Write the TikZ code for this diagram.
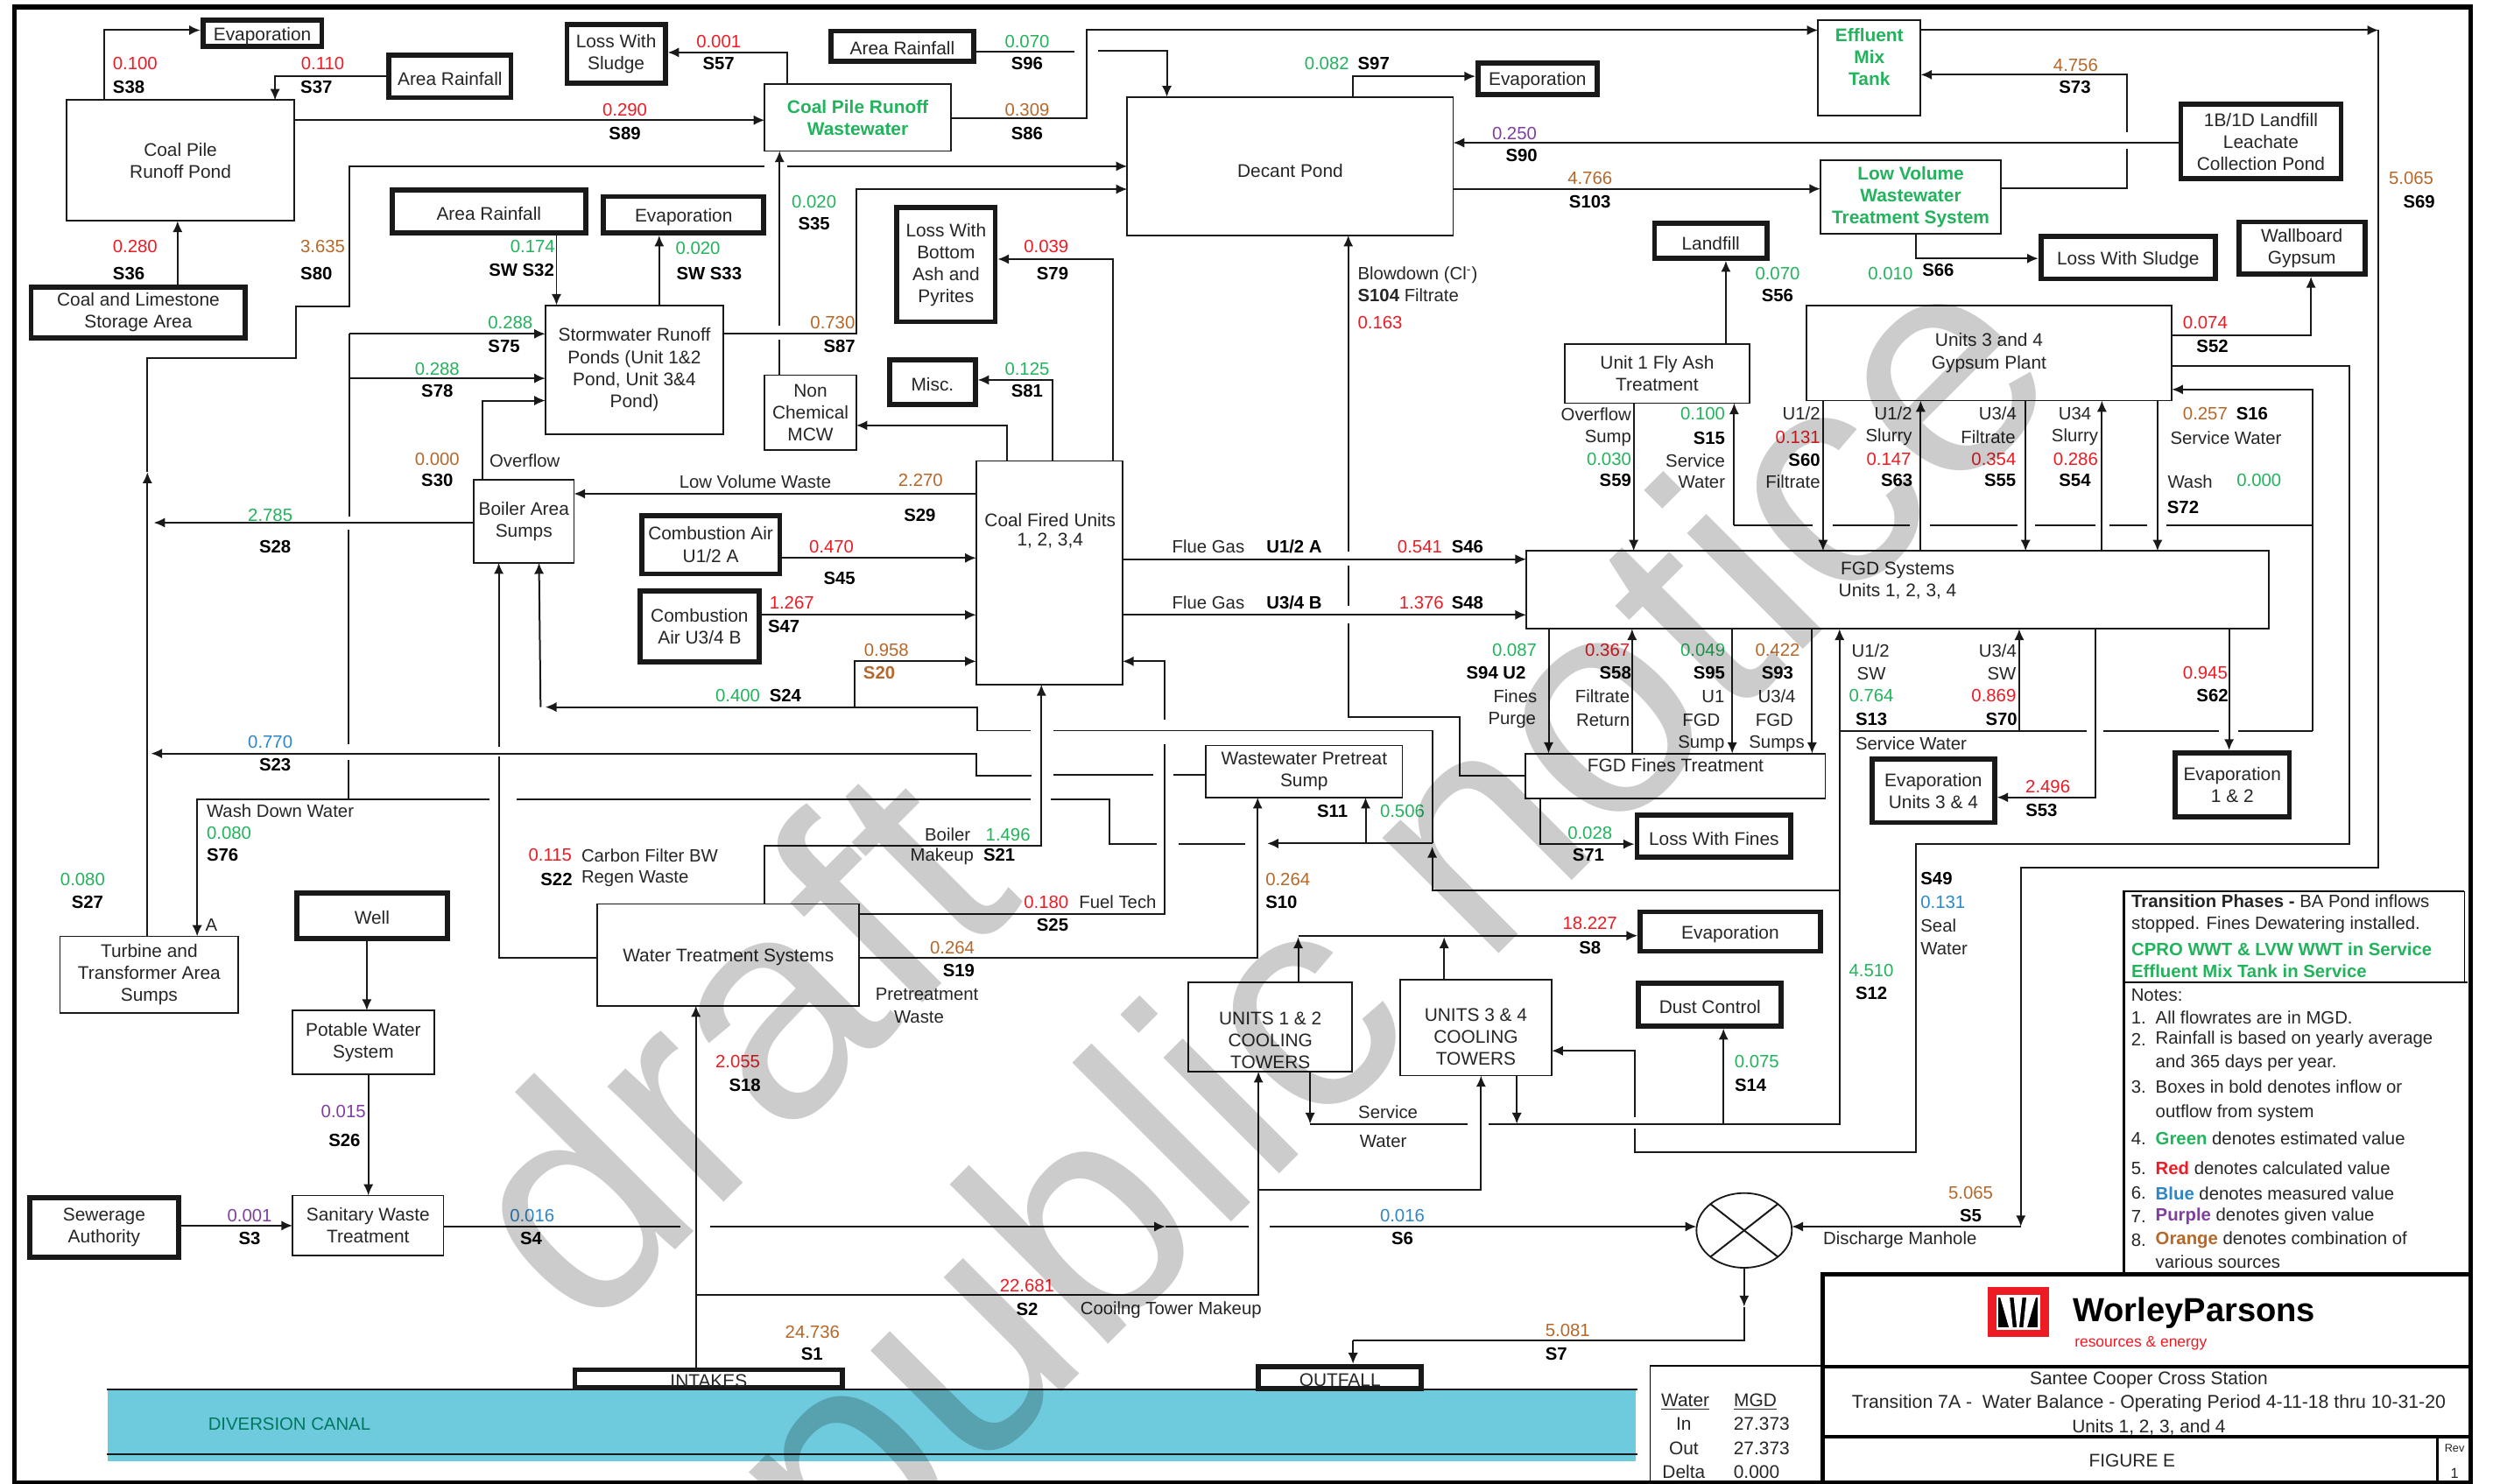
\documentclass[tikz,border=0pt]{standalone}
\usepackage{fontspec}
\setmainfont{Liberation Sans}
\usetikzlibrary{arrows.meta,shapes.geometric}
\definecolor{cred}{HTML}{ED1C24}
\definecolor{cgreen}{HTML}{22B35C}
\definecolor{corange}{HTML}{B5682A}
\definecolor{cblue}{HTML}{2F86C6}
\definecolor{cpurple}{HTML}{7F3FA0}
\definecolor{ctext}{HTML}{262626}
\definecolor{ccanal}{HTML}{6ECBDD}
\definecolor{cteal}{HTML}{00775F}
\newcounter{lbl}
\newcommand{\bxf}{\fontsize{11.5}{13.8}\selectfont}
\newcommand{\lbf}{\fontsize{11.2}{13.6}\selectfont}
\tikzset{
  ln/.style={line width=1.1pt,draw=black!90},
  ar/.style={ln,-{Latex[length=7pt,width=6.2pt]}},
  box/.style={draw=black!90,line width=1pt,inner sep=0pt,outer sep=0pt,align=center,font=\bxf,text=ctext,execute at begin node={\rule{0pt}{11.2pt}}},
  tbox/.style={box,line width=3.2pt,outer sep=1.6pt},
  gbox/.style={box,text=cgreen,font=\bxf\bfseries},
  lab/.style={inner sep=0pt,outer sep=0pt,font=\lbf,text=ctext,align=center},
  rv/.style={lab,text=cred},
  gv/.style={lab,text=cgreen},
  ov/.style={lab,text=corange},
  bv/.style={lab,text=cblue},
  pv/.style={lab,text=cpurple},
  sl/.style={lab,font=\lbf\bfseries,text=black},
  ttl/.style={lab,font=\bxf},
  wm/.style={inner sep=0pt,outer sep=0pt,anchor=base west,rotate=45,font=\fontsize{195}{195}\selectfont,text=black,text opacity=0.2},
}
\newcommand{\bx}[6]{\pgfmathsetmacro{\bxW}{#4-#2}\pgfmathsetmacro{\bxH}{#5-#3}%
  \node[box,minimum width=\bxW pt,minimum height=\bxH pt] (#1) at ({(#2+#4)/2},{(#3+#5)/2}) {#6};}
\newcommand{\gb}[6]{\pgfmathsetmacro{\bxW}{#4-#2}\pgfmathsetmacro{\bxH}{#5-#3}%
  \node[gbox,minimum width=\bxW pt,minimum height=\bxH pt] (#1) at ({(#2+#4)/2},{(#3+#5)/2}) {#6};}
\newcommand{\tb}[6]{\pgfmathsetmacro{\bxW}{#4-#2-3.2}\pgfmathsetmacro{\bxH}{#5-#3-3.2}%
  \node[tbox,minimum width=\bxW pt,minimum height=\bxH pt] (#1) at ({(#2+#4)/2},{(#3+#5)/2}) {#6};}
\newcommand{\lb}[4]{\stepcounter{lbl}\node[#1] (lb\arabic{lbl}) at (#2,#3) {#4};}
\begin{document}
\begin{tikzpicture}[x=1pt,y=-1pt]
\useasboundingbox (0,0) rectangle (1568,933.5);
\fill[white] (0,0) rectangle (1568,933.5);
% canal
\fill[ccanal] (67.7,873.6) rectangle (1029,919);
\draw[ln] (67,873.8) -- (1030,873.8);
\draw[ln] (67,915) -- (1030,915);
% frame
\draw[black,line width=3pt] (9,4.5) rectangle (1554,932.6);
% boxes
\tb{evap1}{126}{11}{204}{31}{Evaporation}
\tb{rain1}{243}{33}{323}{63}{Area Rainfall}
\tb{losss}{355}{14}{420}{54}{Loss With\\Sludge}
\bx{coalpile}{42}{63}{185}{139}{Coal Pile\\Runoff Pond}
\tb{coallime}{18}{179}{156}{214}{Coal and Limestone\\Storage Area}
\tb{rain2}{245}{118}{370}{148}{Area Rainfall}
\tb{evap2}{378}{122}{482}{148}{Evaporation}
\bx{storm}{343}{192}{455}{273}{Stormwater Runoff\\Ponds (Unit 1\&2\\Pond, Unit 3\&4\\Pond)}
\gb{ww}{481}{53}{598}{95}{Coal Pile Runoff\\Wastewater}
\bx{nonchem}{481}{236}{538.5}{283}{Non\\Chemical\\MCW}
\bx{boiler}{298}{302}{361}{354}{Boiler Area\\Sumps}
\tb{comb1}{402}{322.6}{492}{362.6}{Combustion Air\\U1/2 A}
\tb{comb2}{401}{370}{479}{418}{Combustion\\Air U3/4 B}
\bx{coalfired}{614}{290}{706}{430.6}{}
\lb{ttl}{660.5}{327}{Coal Fired Units}
\lb{ttl}{660.5}{340}{1, 2, 3,4}
\tb{rain3}{521}{18}{614}{40}{Area Rainfall}
\bx{decant}{709}{61}{914}{148}{~\\Decant Pond}
\tb{evap3}{928}{38}{1006}{61}{Evaporation}
\tb{lossb}{562.5}{129}{627.5}{204}{Loss With\\Bottom\\Ash and\\Pyrites}
\tb{misc}{558}{224.6}{615}{256}{Misc.}
\bx{fly}{984}{216.6}{1100.5}{253.6}{Unit 1 Fly Ash\\Treatment}
\tb{landfill}{1039}{139}{1113}{164}{Landfill}
\gb{effluent}{1143.5}{12.6}{1208}{72.6}{Effluent\\Mix\\Tank\\~}
\gb{low}{1145}{101}{1258.5}{147}{Low Volume\\Wastewater\\Treatment System}
\tb{leach}{1370}{64}{1474}{114}{1B/1D  Landfill\\Leachate\\Collection Pond}
\tb{lossl}{1282}{147}{1395}{177}{Loss With Sludge}
\tb{wall}{1406.5}{138}{1489}{174}{Wallboard\\Gypsum}
\bx{gyp}{1136}{192}{1366}{252}{Units 3 and 4\\Gypsum Plant}
\node[box,minimum width=467pt,minimum height=49pt,anchor=north west] (fgd) at (960,346.6) {FGD Systems\\Units 1, 2, 3, 4\\~};
\bx{fines}{959.6}{474}{1148}{502.4}{FGD Fines Treatment\\~}
\bx{wwp}{758.5}{469}{882}{501.6}{Wastewater Pretreat\\Sump}
\tb{lossf}{1028}{511}{1128}{541}{Loss With Fines}
\tb{evap34}{1176}{476}{1256}{519}{Evaporation\\Units 3 \& 4}
\tb{evap12}{1366.5}{472}{1441.5}{515.6}{Evaporation\\1 \& 2}
\tb{evap8}{1030}{572}{1146.5}{600}{Evaporation}
\tb{dust}{1029}{617}{1122}{647}{Dust Control}
\bx{turb}{37.7}{589}{150}{637}{Turbine and\\Transformer Area\\Sumps}
\tb{well}{185}{560}{283}{592}{Well}
\bx{wt}{375.7}{568.6}{540.5}{632.6}{Water Treatment Systems}
\bx{pot}{184}{635.6}{273}{675.6}{Potable Water\\System}
\bx{san}{184}{752}{279}{789.6}{Sanitary Waste\\Treatment}
\tb{sew}{17}{752}{114}{792.6}{Sewerage\\Authority}
\bx{ct12}{747.5}{618}{850.5}{674}{~\\[11pt]UNITS 1 \& 2\\COOLING\\TOWERS}
\bx{ct34}{880.5}{616.5}{976}{676.6}{~\\[6pt]UNITS 3 \& 4\\COOLING\\TOWERS}
\tb{intakes}{360}{860}{531.5}{874.6}{INTAKES}
\tb{outfall}{790}{858}{895.5}{875}{OUTFALL}
\node[draw=black!90,line width=1pt,ellipse,minimum width=60pt,minimum height=47pt,inner sep=0pt,outer sep=0pt] (mh) at (1097,774) {};
\draw[ln] (mh.north west) -- (mh.south east);
\draw[ln] (mh.north east) -- (mh.south west);
% connectors - upper left
\draw[ar] (65.7,0 |- coalpile.north) |- (evap1.west |- 0,19);
\draw[ar] (rain1.west |- 0,48) -| (173,0 |- coalpile.north);
\draw[ar] (111.7,0 |- coallime.north) -- (111.7,0 |- coalpile.south);
\draw[ar] (coalpile.east |- 0,75.6) -- (ww.west |- 0,75.6);
\coordinate (s80a) at (92.7,297);
\coordinate (s80b) at (481,104.6);
\coordinate (s80c) at (495,104.6);
\draw[ar] (92.7,0 |- turb.north) -- (s80a);
\draw[ln] (s80a) -- (92.7,225) -- (186,225) -- (186,193) -- (219.5,193) -- (219.5,104.6) -- (s80b);
\draw[ar] (s80c) -- (decant.west |- 0,104.6);
\coordinate (s35a) at (490.3,213.6);
\coordinate (s35b) at (490.3,205);
\draw[ln] (490.3,0 |- nonchem.north) -- (s35a);
\draw[ar] (s35b) -- (490.3,0 |- ww.south);
\draw[ar] (storm.east |- 0,210) -| (538.5,119) -- (decant.west |- 0,119);
\draw[ar] (495.3,0 |- ww.north) |- (losss.east |- 0,33);
\draw[ar] (350,0 |- rain2.south) -- (350,0 |- storm.north);
\draw[ar] (414.6,0 |- storm.north) -- (414.6,0 |- evap2.south);
\coordinate (v1) at (219.5,210);
\coordinate (v2) at (219.5,238);
\draw[ar] (v1) -- (storm.west |- v1);
\draw[ar] (v2) -- (storm.west |- v2);
\draw[ln] (v1) -- (219.5,325);
\draw[ln] (219.3,333) -- (219.3,468);
\draw[ln] (219.3,478) -- (219.3,502.6);
\draw[ar] (303.7,0 |- boiler.north) |- (storm.west |- 0,252);
\draw[ar] (coalfired.west |- 0,310.6) -- (boiler.east |- 0,310.6);
\draw[ar] (boiler.west |- 0,328.8) -- (96.7,328.8);
\coordinate (b1) at (313.7,476);
\coordinate (b2) at (313.7,470);
\draw[ln] (wt.west |- 0,602.6) -| (b1);
\draw[ar] (b2) -- (313.7,0 |- boiler.south);
\draw[ar] (comb1.east |- 0,351) -- (coalfired.west |- 0,351);
\draw[ar] (comb2.east |- 0,386.8) -- (coalfired.west |- 0,386.8);
\draw[ar] (699.9,0 |- coalfired.north) |- (lossb.east |- 0,163);
\draw[ar] (661.9,0 |- coalfired.north) |- (misc.east |- 0,239);
\draw[ar] (633.5,0 |- coalfired.north) |- (nonchem.east |- 0,267.6);
% top
\coordinate (s96a) at (675.9,32.6);
\coordinate (s96b) at (690.5,32.2);
\draw[ln] (rain3.east |- s96a) -- (s96a);
\draw[ar] (s96b) -| (733.9,0 |- decant.north);
\draw[ar] (ww.east |- 0,74.4) -| (683.5,19) -- (effluent.west |- 0,19);
\draw[ar] (851,0 |- decant.north) |- (evap3.west |- 0,48);
\coordinate (s90a) at (1342,89.8);
\draw[ar] (leach.west |- s90a) -- (decant.east |- s90a);
\draw[ar] (decant.east |- 0,118.8) -- (low.west |- 0,118.8);
\coordinate (s73a) at (1337.5,93.4);
\coordinate (s73b) at (1337.5,83);
\draw[ln] (low.east |- 0,118.4) -| (s73a);
\draw[ar] (s73b) |- (effluent.east |- 0,47);
\coordinate (s69a) at (1496,19);
\draw[ar] (effluent.east |- s69a) -- (s69a);
\coordinate (s5a) at (1271,771.6);
\draw[ar] (s69a) |- (1271,545.6) -- (s5a);
\draw[ar] (s5a) -- (mh.east |- s5a);
\draw[ar] (1205,0 |- low.south) |- (lossl.west |- 0,162.6);
\draw[ar] (1085.5,0 |- fly.north) -- (1085.5,0 |- landfill.south);
\draw[ar] (gyp.east |- 0,211) -| (1453.5,0 |- wall.south);
\coordinate (s32a) at (1028,710);
\coordinate (s32b) at (1028,703);
\draw[ln] (gyp.east |- 0,230) -| (1477.5,530.8) -| (1205,725) -| (s32a);
\draw[ar] (s32b) |- (ct34.east |- 0,661);
\coordinate (s72a) at (1454.5,460);
\draw[ar] (s72a) |- (gyp.east |- 0,245);
\draw[ln] (1454.5,330.2) -- (1362.5,330.2);
\foreach \a/\b in {1350.6/1327,1317.7/1280,1269/1214,1201/1152.7,1140/1090.7} {\draw[ln] (\a,330.2) -- (\b,330.2);}
\draw[ar] (1090.7,330.2) -- (1090.7,0 |- fly.south);
\draw[ln] (s72a) -- (1407.5,460);
\draw[ln] (1395.5,460) -- (1323,460);
\draw[ln] (1312.5,460) -- (1157,460);
\draw[ar] (1146.6,0 |- gyp.south) -- (1146.6,0 |- fgd.north);
\draw[ar] (1274,0 |- gyp.south) -- (1274,0 |- fgd.north);
\draw[ar] (1357,0 |- gyp.south) -- (1357,0 |- fgd.north);
\draw[ar] (1208,0 |- fgd.north) -- (1208,0 |- gyp.south);
\draw[ar] (1322,0 |- fgd.north) -- (1322,0 |- gyp.south);
\draw[ar] (1027.5,0 |- fly.south) -- (1027.5,0 |- fgd.north);
\draw[ar] (coalfired.east |- 0,351.8) -- (fgd.west |- 0,351.8);
\draw[ar] (coalfired.east |- 0,386.8) -- (fgd.west |- 0,386.8);
% S104
\coordinate (s104a) at (848,347);
\draw[ar] (s104a) -- (848,0 |- decant.south);
\draw[ln] (848,356) -- (848,381);
\draw[ln] (848,392) -- (848,451) -- (918,451) -- (918,487.8) -- (fines.west |- 0,487.8);
% FGD down
\draw[ar] (974,0 |- fgd.south) -- (974,0 |- fines.north);
\draw[ar] (1026.5,0 |- fines.north) -- (1026.5,0 |- fgd.south);
\draw[ar] (1089.5,0 |- fgd.south) -- (1089.5,0 |- fines.north);
\draw[ar] (1139.7,0 |- fgd.south) -- (1139.7,0 |- fines.north);
\draw[ar] (1157,460) -- (1157,0 |- fgd.south);
\draw[ar] (1270,460) -- (1270,0 |- fgd.south);
\draw[ar] (1318,0 |- fgd.south) |- (evap34.east |- 0,501.6);
\draw[ar] (1402,0 |- fgd.south) -- (1402,0 |- evap12.north);
\draw[ar] (968.8,0 |- fines.south) |- (lossf.west |- 0,531);
% middle lines
\coordinate (j1) at (900.8,459.6);
\coordinate (j2) at (900.8,530.6);
\draw[ln] (j1) -- (662.5,459.6);
\draw[ar] (648,459.6) -| (614.7,444.8) -- (343,444.8);
\draw[ar] (340,444.8) -- (339,0 |- boiler.south);
\draw[ar] (537.5,444.8) |- (coalfired.west |- 0,416);
\draw[ln] (j1) -- (j2);
\draw[ar] (1157,560) -| (900.8,532.5);
\draw[ar] (j2) -- (797,530.6);
\draw[ar] (858.9,530.6) -- (858.9,0 |- wwp.south);
\draw[ln] (783,531) -- (741.5,531);
\draw[ln] (727.5,531) -| (698,502.6) -- (660.8,502.6);
\draw[ln] (648,502.6) -- (325,502.6);
\draw[ar] (307.7,502.6) -| (124,0 |- turb.north);
\draw[ln] (wwp.west |- 0,487.6) -- (738,487.6);
\draw[ln] (725.5,487.6) -- (662.5,487.6);
\draw[ar] (649,488) -| (614,474) -- (95,474);
\draw[ar] (480.7,0 |- wt.north) |- (655,531.8) -- (655,0 |- coalfired.south);
\draw[ln] (wt.east |- 0,574.8) -| (732.5,468);
\draw[ar] (732.5,452.8) |- (coalfired.east |- 0,416);
\draw[ar] (wt.east |- 0,602.6) -| (791,0 |- wwp.south);
% lower
\draw[ar] (437.7,0 |- intakes.north) -- (437.7,0 |- wt.south);
\draw[ar] (437.7,814.6) -| (791.5,0 |- ct12.south);
\draw[ar] (791.5,748.6) -| (931.5,0 |- ct34.south);
\coordinate (s4a) at (428,771.6);
\coordinate (s4b) at (446.7,771.6);
\coordinate (s4c) at (733,771.6);
\coordinate (s4d) at (785.5,771.6);
\coordinate (s6a) at (798.7,771.6);
\draw[ln] (san.east |- s4a) -- (s4a);
\draw[ar] (s4b) -- (s4c);
\draw[ln] (s4c) -- (s4d);
\draw[ar] (s6a) -- (mh.west |- s6a);
\coordinate (s7a) at (1097,822);
\draw[ar] (mh.south) -- (s7a);
\draw[ln] (s7a) |- (851,843);
\draw[ar] (851,843) -- (851,0 |- outfall.north);
\draw[ln] (1157,460) -- (1157,707) -- (936.5,707);
\draw[ln] (923,707) -- (824,707);
\draw[ar] (824,0 |- ct12.south) -- (824,707);
\draw[ar] (954,0 |- ct34.south) -- (954,707);
\draw[ar] (1084,707) -- (1084,0 |- dust.south);
\draw[ar] (816.5,0 |- ct12.north) -- (816.5,589.5);
\draw[ar] (816.5,588.6) -- (evap8.west |- 0,588.6);
\draw[ar] (908.3,0 |- ct34.north) -- (908.3,589.5);
\draw[ar] (230.7,0 |- well.south) -- (230.7,0 |- pot.north);
\draw[ar] (231.7,0 |- pot.south) -- (231.7,0 |- san.north);
\draw[ar] (sew.east |- 0,771) -- (san.west |- 0,771);
% legend and title block
\draw[line width=1.5pt,black] (1336,800.6) -- (1336,560.6) -- (1550,560.6);
\draw[line width=1.5pt,black] (1336,618) -- (1552,618);
\draw[line width=.8pt,black] (1550,560.6) -- (1550,618);
\draw[line width=3pt,black] (1146.5,933) -- (1146.5,801.6) -- (1554,801.6);
\draw[line width=2pt,black] (1146.5,859.6) -- (1554,859.6);
\draw[line width=2.2pt,black] (1146.5,903.6) -- (1554,903.6);
\draw[line width=1.5pt,black] (1533,903.6) -- (1533,933);
\draw[line width=.8pt,black] (1038,933) -- (1038,859.2) -- (1146.5,859.2);
% logo
\fill[cred] (1250,809.6) rectangle (1289,841);
\fill[white] (1255.5,814.6) rectangle (1283,836.6);
\fill[black] (1257,816) rectangle (1281.5,835);
\fill[white] (1258,816) -- (1264,816) -- (1266,835) -- (1263.5,835) -- cycle;
\fill[white] (1280.5,816) -- (1274.5,816) -- (1272.5,835) -- (1275,835) -- cycle;
\fill[white] (1266.5,816) -- (1272,816) -- (1270,835) -- (1268.5,835) -- cycle;
\lb{lab,font=\fontsize{21}{24}\bfseries\selectfont,text=black}{1380}{826}{WorleyParsons}
\lb{lab,font=\fontsize{9.6}{11}\selectfont,text=cred}{1346.5}{845}{resources \& energy}
\lb{ttl}{1351.5}{868}{Santee Cooper Cross Station}
\lb{ttl,font=\fontsize{11.7}{14}\selectfont}{1351.5}{883}{Transition 7A -\ \ Water Balance - Operating Period 4-11-18 thru 10-31-20}
\lb{ttl}{1351.5}{897.6}{Units 1, 2, 3, and 4}
\lb{ttl}{1341}{919}{FIGURE E}
\lb{lab,font=\fontsize{7}{8}\selectfont}{1543.8}{911}{Rev}
\lb{lab,font=\fontsize{9}{10}\selectfont}{1543.8}{926.6}{1}
% water table
\lb{ttl}{1060}{882}{\underline{Water}}
\lb{ttl}{1104}{882}{\underline{MGD}}
\lb{ttl}{1059}{895.6}{In}
\lb{ttl}{1108}{895.6}{27.373}
\lb{ttl}{1059}{911}{Out}
\lb{ttl}{1108}{911}{27.373}
\lb{ttl}{1059}{926}{Delta}
\lb{ttl}{1104.8}{926}{0.000}
% transition text
\lb{lab,anchor=west}{1340.6}{567}{\textbf{Transition Phases -} BA Pond inflows}
\lb{lab,anchor=west}{1340.6}{582}{stopped. Fines Dewatering installed.}
\lb{gv,anchor=west,font=\lbf\bfseries}{1340.6}{597}{CPRO WWT \& LVW WWT in Service}
\lb{gv,anchor=west,font=\lbf\bfseries}{1340.6}{611}{Effluent Mix Tank in Service}
% notes
\lb{lab,anchor=west}{1340.4}{626}{Notes:}
\foreach \n/\yy in {1/640,2/654,3/683.6,4/716,5/735,6/750.6,7/765,8/780} {\lb{lab,anchor=west}{1340.4}{\yy}{\n.}}
\lb{lab,anchor=west}{1355.8}{640}{All flowrates are in MGD.}
\lb{lab,anchor=west}{1355.8}{654}{Rainfall is based on yearly average}
\lb{lab,anchor=west}{1355.8}{669}{and 365 days per year.}
\lb{lab,anchor=west}{1355.8}{683.6}{Boxes in bold denotes inflow or}
\lb{lab,anchor=west}{1355.8}{700}{outflow from system}
\lb{lab,anchor=west}{1355.8}{716}{\textcolor{cgreen}{\textbf{Green}} denotes estimated value}
\lb{lab,anchor=west}{1355.8}{735}{\textcolor{cred}{\textbf{Red}} denotes calculated value}
\lb{lab,anchor=west}{1355.8}{750.6}{\textcolor{cblue}{\textbf{Blue}} denotes measured value}
\lb{lab,anchor=west}{1355.8}{765}{\textcolor{cpurple}{\textbf{Purple}} denotes given value}
\lb{lab,anchor=west}{1355.8}{780}{\textcolor{corange}{\textbf{Orange}} denotes combination of}
\lb{lab,anchor=west}{1355.8}{794}{various sources}
% labels
\lb{rv}{85}{40}{0.100}\lb{sl}{81}{55}{S38}
\lb{rv}{203}{40}{0.110}\lb{sl}{199}{55}{S37}
\lb{rv}{452}{26}{0.001}\lb{sl}{452}{40}{S57}
\lb{rv}{393}{69}{0.290}\lb{sl}{393}{84}{S89}
\lb{rv}{85}{155}{0.280}\lb{sl}{81}{172}{S36}
\lb{ov}{203}{155}{3.635}\lb{sl}{199}{172}{S80}
\lb{gv}{335}{155}{0.174}\lb{sl}{328}{170}{SW S32}
\lb{gv}{439}{156}{0.020}\lb{sl}{446}{172}{SW S33}
\lb{gv}{512}{127}{0.020}\lb{sl}{512}{141}{S35}
\lb{gv}{321}{203}{0.288}\lb{sl}{317}{218}{S75}
\lb{gv}{275}{232}{0.288}\lb{sl}{275}{246}{S78}
\lb{ov}{275}{289}{0.000}\lb{sl}{275}{302}{S30}
\lb{lab}{330}{290}{Overflow}
\lb{lab}{475}{303}{Low Volume Waste}
\lb{ov}{523.7}{203}{0.730}\lb{sl}{528}{218}{S87}
\lb{gv}{646}{26}{0.070}\lb{sl}{646}{40}{S96}
\lb{ov}{646}{69}{0.309}\lb{sl}{646}{84}{S86}
\lb{gv}{834.5}{40}{0.082}\lb{sl}{864}{40}{S97}
\lb{pv}{952.5}{84}{0.250}\lb{sl}{957}{98}{S90}
\lb{ov}{1000}{112}{4.766}\lb{sl}{1000}{127}{S103}
\lb{rv}{658}{155}{0.039}\lb{sl}{662}{172}{S79}
\lb{gv}{646}{232}{0.125}\lb{sl}{646}{246}{S81}
\lb{lab,anchor=west}{854}{173}{Blowdown (Cl\textsuperscript{-})}
\lb{lab,anchor=west}{854}{186}{\textbf{S104} Filtrate}
\lb{rv,anchor=west}{854}{203}{0.163}
\lb{ov}{579}{302}{2.270}\lb{sl}{578.5}{324}{S29}
\lb{lab,anchor=east}{1026}{260.6}{Overflow}
\lb{lab,anchor=east}{1026}{275.6}{Sump}
\lb{gv,anchor=east}{1026}{289}{0.030}
\lb{sl,anchor=east}{1026}{302}{S59}
\lb{ov}{1305.5}{41}{4.756}\lb{sl}{1305}{55}{S73}
\lb{ov}{1516.5}{112}{5.065}\lb{sl}{1521.5}{127}{S69}
\lb{gv}{1118}{172}{0.070}\lb{sl}{1118}{186}{S56}
\lb{gv}{1189}{172}{0.010}\lb{sl}{1219}{170}{S66}
\lb{rv}{1387}{203}{0.074}\lb{sl}{1391.5}{218}{S52}
\lb{gv,anchor=east}{1085}{260}{0.100}
\lb{sl,anchor=east}{1085}{275.6}{S15}
\lb{lab,anchor=east}{1085}{290}{Service}
\lb{lab,anchor=east}{1085}{303}{Water}
\lb{lab,anchor=east}{1144.8}{260}{U1/2}
\lb{rv,anchor=east}{1144.8}{275}{0.131}
\lb{sl,anchor=east}{1144.8}{289.4}{S60}
\lb{lab,anchor=east}{1144.8}{303}{Filtrate}
\lb{lab}{1190.8}{260}{U1/2}\lb{lab}{1188}{275}{Slurry}\lb{rv}{1188}{289}{0.147}\lb{sl}{1193}{302}{S63}
\lb{lab}{1256.5}{260}{U3/4}\lb{lab}{1250.5}{275}{Filtrate}\lb{rv}{1254}{289}{0.354}\lb{sl}{1258}{302}{S55}
\lb{lab}{1305}{260}{U34}\lb{lab}{1305}{275}{Slurry}\lb{rv}{1305.5}{289}{0.286}\lb{sl}{1305}{302}{S54}
\lb{ov}{1387}{260}{0.257}\lb{sl}{1416.5}{260}{S16}
\lb{lab}{1400}{275.6}{Service Water}
\lb{lab}{1377.5}{303}{Wash}\lb{gv}{1420.8}{302}{0.000}
\lb{sl}{1373}{319}{S72}
\lb{gv}{170}{324}{2.785}\lb{sl}{173}{344}{S28}
\lb{rv}{523}{344}{0.470}\lb{sl}{528}{364}{S45}
\lb{rv}{498}{379}{1.267}\lb{sl}{493}{394}{S47}
\lb{gv}{464}{437.6}{0.400}\lb{sl}{494}{437.6}{S24}
\lb{ov}{557.5}{409}{0.958}\lb{ov,font=\lbf\bfseries}{553}{423}{S20}
\lb{bv}{170}{466.6}{0.770}\lb{sl}{173}{481}{S23}
\lb{lab,anchor=west}{130}{510}{Wash Down Water}
\lb{gv,anchor=west}{130}{524}{0.080}
\lb{sl,anchor=west}{130}{538}{S76}
\lb{gv}{52}{553}{0.080}\lb{sl}{55}{567.6}{S27}
\lb{rv}{346}{538}{0.115}\lb{lab,anchor=west}{365.7}{538}{Carbon Filter BW}
\lb{sl}{350}{553}{S22}\lb{lab,anchor=west}{365.7}{553}{Regen Waste}
\lb{lab}{133}{582}{A}
\lb{lab}{760}{344}{Flue Gas}\lb{sl}{814}{344}{U1/2 A}\lb{rv}{893}{344}{0.541}\lb{sl}{923}{344}{S46}
\lb{lab}{760}{379}{Flue Gas}\lb{sl}{814}{379}{U3/4 B}\lb{rv}{894}{379}{1.376}\lb{sl}{923}{379}{S48}
\lb{gv}{952.5}{409}{0.087}\lb{sl}{941}{423}{S94 U2}\lb{lab}{953}{438}{Fines}\lb{lab}{951}{453}{Purge}
\lb{rv}{1011}{409}{0.367}\lb{sl}{1016}{423}{S58}
\lb{lab,anchor=east}{1025}{438}{Filtrate}\lb{lab,anchor=east}{1025}{453}{Return}
\lb{lab}{596}{525}{Boiler}\lb{gv}{634}{525}{1.496}\lb{lab}{592.5}{539}{Makeup}\lb{sl}{628.5}{538}{S21}
\lb{rv}{658}{567.6}{0.180}\lb{lab}{703}{567.6}{Fuel Tech}\lb{sl}{662}{581.6}{S25}
\lb{ov}{599}{596}{0.264}\lb{sl}{603}{610.6}{S19}
\lb{lab}{583}{625.6}{Pretreatment}\lb{lab}{578}{640}{Waste}
\lb{ov}{810}{553}{0.264}\lb{sl}{806}{567.6}{S10}
\lb{sl}{838}{510}{S11}\lb{gv}{882}{510}{0.506}
\lb{gv}{1000}{524}{0.028}\lb{sl}{999}{538}{S71}
\lb{rv}{1000}{581}{18.227}\lb{sl}{1000}{596}{S8}
\lb{gv}{1071}{409}{0.049}\lb{sl}{1075}{423}{S95}\lb{lab}{1077.5}{438}{U1}\lb{lab}{1070}{453}{FGD}\lb{lab}{1070}{467.6}{Sump}
\lb{ov}{1118}{409}{0.422}\lb{sl}{1118}{423}{S93}\lb{lab}{1117.5}{438}{U3/4}\lb{lab}{1116}{453}{FGD}\lb{lab}{1117.5}{467.6}{Sumps}
\lb{lab}{1176.5}{409.6}{U1/2}\lb{lab}{1177}{423.6}{SW}\lb{gv}{1177}{437.6}{0.764}\lb{sl}{1177}{452.4}{S13}
\lb{lab}{1256.5}{409.6}{U3/4}\lb{lab}{1259}{423.6}{SW}\lb{rv}{1254}{437.6}{0.869}\lb{sl}{1258.8}{452.4}{S70}
\lb{lab}{1202}{467.6}{Service Water}
\lb{rv}{1288}{495}{2.496}\lb{sl}{1284}{510}{S53}
\lb{rv}{1387}{423}{0.945}\lb{sl}{1391.5}{437.6}{S62}
\lb{sl,anchor=west}{1208}{552.8}{S49}
\lb{bv,anchor=west}{1208}{567.6}{0.131}
\lb{lab,anchor=west}{1208}{582}{Seal}
\lb{lab,anchor=west}{1208}{597}{Water}
\lb{gv}{1177}{610.6}{4.510}\lb{sl}{1177}{625}{S12}
\lb{pv}{216}{699}{0.015}\lb{sl}{216.7}{717.6}{S26}
\lb{pv}{157}{764.6}{0.001}\lb{sl}{157}{779}{S3}
\lb{bv}{334.7}{764.6}{0.016}\lb{sl}{334}{779}{S4}
\lb{rv}{464}{668}{2.055}\lb{sl}{468.5}{682.6}{S18}
\lb{ov}{511}{838}{24.736}\lb{sl}{510.7}{852}{S1}
\lb{lab,text=cteal}{182}{895.6}{DIVERSION CANAL}
\lb{rv}{646}{808.6}{22.681}\lb{sl}{646}{823.6}{S2}
\lb{lab}{736.5}{824}{Cooilng Tower Makeup}
\lb{lab}{873}{699.6}{Service}\lb{lab}{870}{718}{Water}
\lb{bv}{882}{764.6}{0.016}\lb{sl}{882}{779}{S6}
\lb{ov}{986}{837}{5.081}\lb{sl}{978.8}{851.6}{S7}
\lb{gv}{1105}{668}{0.075}\lb{sl}{1101}{682.8}{S14}
\lb{ov}{1239.5}{750.6}{5.065}\lb{sl}{1239.5}{764.6}{S5}
\lb{lab}{1195}{780}{Discharge Manhole}
% watermark
\begin{scope}
\clip (0,0) rectangle (1568,933.5);
\node[wm] (wm1) at (369,842.5) {draft};
\node[wm] (wm2) at (535,1008) {public notice};
\end{scope}
\end{tikzpicture}
\end{document}
